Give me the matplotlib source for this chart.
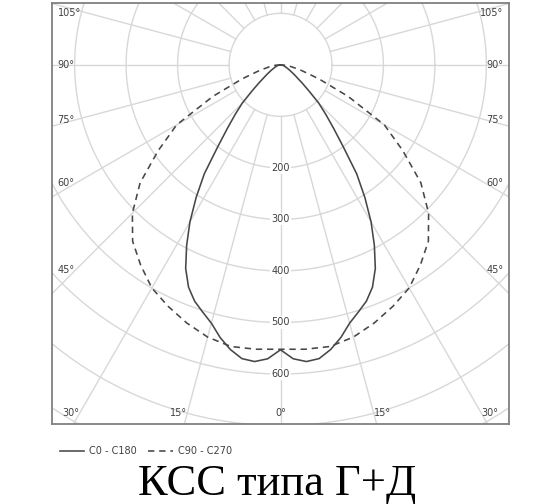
import numpy as np
import matplotlib
matplotlib.use("Agg")
import matplotlib.pyplot as plt

# light distribution, cd (angle from nadir, deg) - symmetric halves
ang_c0 = [0, 2.5, 5, 7.5, 10, 12.5, 15, 17.5, 20, 22.5, 25, 27.5, 30, 32.5, 35, 37.5,
          40, 42.5, 45, 47.5, 50, 55, 60, 65, 70, 75, 80, 85, 90]
cd_c0 = [553, 571, 578, 575, 561, 542, 519, 503, 488, 467, 436, 395, 352, 305, 258, 200,
         160, 130, 105, 75, 55, 32, 20, 13, 9, 6, 4, 2, 0]

ang_c90 = [0, 5, 10, 15, 20, 25, 30, 35, 40, 45, 50, 55, 60, 65, 70, 75, 80, 85, 90]
cd_c90 = [552, 554, 555, 547, 533, 517, 500, 474, 447, 407, 356, 290, 233, 145, 79, 42, 22, 10, 0]

rings = [100, 200, 300, 400, 500, 600, 700, 800]
ring_labels = [200, 300, 400, 500, 600]
side_labels = [45, 60, 75, 90, 105]
bottom_labels = [0, 15, 30]

grid_col = "#d8d8d8"
txt_col = "#404040"
line_col = "#474747"

fig = plt.figure(figsize=(5.6, 5.04), dpi=100)
ax = fig.add_axes([52/560, 80/504, 457/560, 421/504])
ax.set_xlim(-444, 444)
ax.set_ylim(-697, 120)

# polar grid
t = np.linspace(0, 2*np.pi, 400)
for r in rings:
    ax.plot(r*np.cos(t), r*np.sin(t), color=grid_col, lw=1.0, zorder=1)
for a in range(0, 360, 15):
    th = np.radians(a)
    ax.plot([100*np.sin(th), 1000*np.sin(th)], [-100*np.cos(th), -1000*np.cos(th)],
            color=grid_col, lw=1.0, zorder=1)

for r in ring_labels:
    ax.text(0, -r, str(r), ha="center", va="center", fontsize=7, color=txt_col,
            bbox=dict(facecolor="white", edgecolor="none", pad=0.8), zorder=2)

# angle labels
for a in side_labels:
    th = np.radians(a)
    y = min(-398/np.tan(th), 100)
    ax.text(-433, y, f"{a}°", ha="left", va="center", fontsize=7, color=txt_col, zorder=2)
    ax.text(433, y, f"{a}°", ha="right", va="center", fontsize=7, color=txt_col, zorder=2)
for a in bottom_labels:
    x = 676*np.tan(np.radians(a))
    if a == 0:
        ax.text(0, -676, "0°", ha="center", va="center", fontsize=7, color=txt_col, zorder=2)
    else:
        ax.text(-x, -676, f"{a}°", ha="right", va="center", fontsize=7, color=txt_col, zorder=2)
        ax.text(x, -676, f"{a}°", ha="left", va="center", fontsize=7, color=txt_col, zorder=2)

def curve(angs, vals):
    a = np.radians(np.concatenate([-np.array(angs)[::-1], np.array(angs)[1:]]))
    r = np.concatenate([np.array(vals)[::-1], np.array(vals)[1:]])
    return r*np.sin(a), -r*np.cos(a)

x0, y0 = curve(ang_c0, cd_c0)
x90, y90 = curve(ang_c90, cd_c90)
ax.plot(x0, y0, color=line_col, lw=1.15, zorder=3, label="C0 - C180")
ax.plot(x90, y90, color=line_col, lw=1.15, dashes=(4, 3), zorder=3, label="C90 - C270")

ax.set_xticks([])
ax.set_yticks([])
for s in ax.spines.values():
    s.set_color("#808080")
    s.set_linewidth(1.3)

fig.legend(loc="center left", bbox_to_anchor=(55/560, 1-451/504), ncol=2, frameon=False,
           fontsize=7, handlelength=2.5, handletextpad=0.5, columnspacing=1.2,
           borderpad=0, labelcolor=txt_col)

fig.text(0.495, 1-495/504, "КСС типа Г+Д", family="Liberation Serif", fontsize=32,
         ha="center", va="baseline", color="black")

fig.savefig("out.png", dpi=100)
